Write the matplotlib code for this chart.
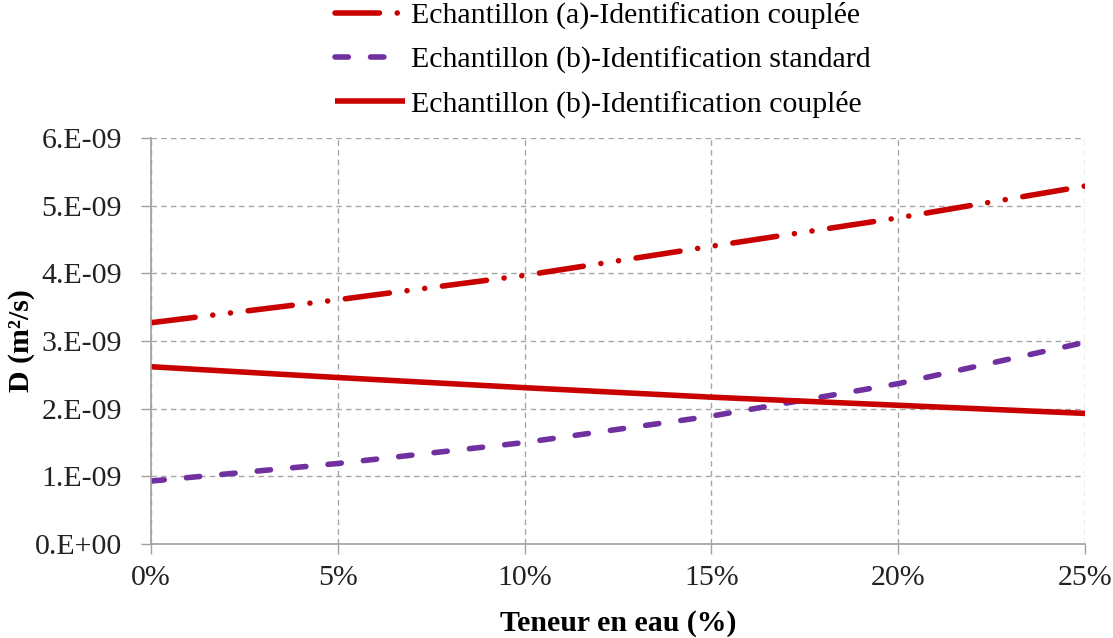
import matplotlib
matplotlib.use("Agg")
import matplotlib.pyplot as plt
import numpy as np

# Data
teneur = [0, 5, 10, 15, 20, 25]  # %
d_a_couplee = [3.27e-9, 3.61e-9, 3.97e-9, 4.40e-9, 4.82e-9, 5.29e-9]
d_b_standard = [0.93e-9, 1.19e-9, 1.50e-9, 1.89e-9, 2.37e-9, 2.98e-9]
d_b_couplee = [2.62e-9, 2.46e-9, 2.31e-9, 2.17e-9, 2.05e-9, 1.93e-9]

labels = ["Echantillon (a)-Identification couplée",
          "Echantillon (b)-Identification standard",
          "Echantillon (b)-Identification couplée"]
xtick_vals = [0, 5, 10, 15, 20, 25]
xtick_labels = ["0%", "5%", "10%", "15%", "20%", "25%"]
ytick_vals = [0, 1e-9, 2e-9, 3e-9, 4e-9, 5e-9, 6e-9]
ytick_labels = ["0.E+00", "1.E-09", "2.E-09", "3.E-09", "4.E-09", "5.E-09", "6.E-09"]

plt.rcParams['font.family'] = ['Liberation Serif', 'DejaVu Serif']

fig = plt.figure(figsize=(11.13, 6.38), dpi=100)
ax = fig.add_axes([151/1113, 94/638, (1085-151)/1113, (544-138)/638])

red = '#C80000'
purple = '#7030A0'
lw = 4.0
fs = 21.5

l1, = ax.plot(teneur, d_a_couplee, color=red, lw=lw, solid_capstyle='round',
              dash_capstyle='round', linestyle=(0, (8.0, 3.2, 0.01, 3.2, 0.01, 3.2)),
              label=labels[0])
l2, = ax.plot(teneur, d_b_standard, color=purple, lw=lw, dash_capstyle='round',
              linestyle=(0, (2.4, 4.0)), label=labels[1])
l3, = ax.plot(teneur, d_b_couplee, color=red, lw=lw, solid_capstyle='butt',
              linestyle='-', label=labels[2])

ax.set_xlim(0, 25)
ax.set_ylim(0, 6e-9)
ax.set_xticks(xtick_vals)
ax.set_xticklabels(xtick_labels)
ax.set_yticks(ytick_vals)
ax.set_yticklabels(ytick_labels)

ax.grid(True, color='#A6A6A6', linestyle=(0, (4, 3)), linewidth=1.0)
ax.set_axisbelow(True)
for s in ['top', 'right']:
    ax.spines[s].set_visible(False)
for s in ['left', 'bottom']:
    ax.spines[s].set_color('#A0A0A0')
    ax.spines[s].set_linewidth(1.2)

ax.tick_params(axis='both', direction='out', length=7, width=1.0, color='#A0A0A0',
               labelsize=fs, labelcolor='#222222')
ax.tick_params(axis='x', pad=8)
ax.tick_params(axis='y', pad=14)

ax.set_xlabel("Teneur en eau (%)", fontsize=fs, fontweight='bold', labelpad=14)
ax.set_ylabel("D (m²/s)", fontsize=fs, fontweight='bold', labelpad=0)

leg = fig.legend(handles=[l1, l2, l3], labels=labels, loc='upper left',
                 bbox_to_anchor=(335/1113, 1.0 - 2/638), frameon=False, fontsize=fs,
                 handlelength=2.35, handletextpad=0.2, labelspacing=0.57,
                 borderaxespad=0.0, borderpad=0.0)

fig.savefig("out.png", dpi=100)
